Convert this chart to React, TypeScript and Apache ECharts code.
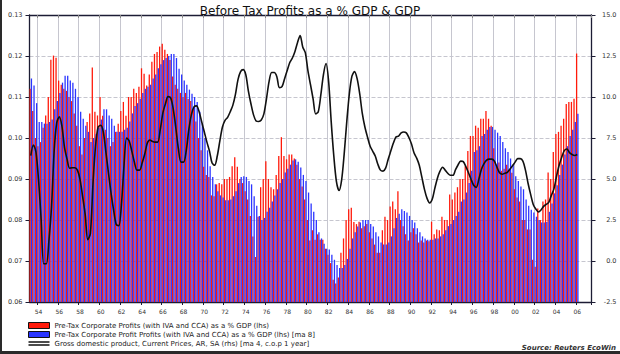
import React, { useEffect, useRef } from 'react';
import * as echarts from 'echarts';

// Axis spans 1953Q2 .. 2007Q2 (quarterly categories)
const startYear = 1953;
const startQuarter = 2;
const totalQuarters = 217;
const tickYears = [1954, 1956, 1958, 1960, 1962, 1964, 1966, 1968, 1970, 1972, 1974, 1976, 1978, 1980,
  1982, 1984, 1986, 1988, 1990, 1992, 1994, 1996, 1998, 2000, 2002, 2004, 2006];

const titleText = 'Before Tax Profits as a % GDP & GDP';
const seriesNames = [
  'Pre-Tax Corporate Profits (with IVA and CCA) as a % GDP (lhs)',
  'Pre-Tax Corporate Profit Profits (with IVA and CCA) as a % GDP (lhs) [ma 8]',
  'Gross domestic product, Current Prices, AR, SA (rhs) [ma 4, c.o.p 1 year]',
];
const sourceText = 'Source: Reuters EcoWin';

// 1953Q2 .. 2006Q1
const profitRatio = [
  0.112, 0.1066, 0.100,
  0.098, 0.099, 0.1025, 0.1055,
  0.110, 0.1191, 0.1201, 0.1196,
  0.114, 0.113, 0.112, 0.1115,
  0.110, 0.109, 0.106, 0.103,
  0.098, 0.096, 0.100, 0.1039,
  0.106, 0.1172, 0.1064, 0.1055,
  0.110, 0.1054, 0.102, 0.100,
  0.098, 0.099, 0.1015, 0.1035,
  0.1066, 0.1088, 0.1054, 0.110,
  0.110, 0.112, 0.111, 0.1125,
  0.117, 0.1157, 0.1128, 0.1155,
  0.1186, 0.1205, 0.121, 0.1223,
  0.123, 0.1215, 0.1205, 0.119,
  0.115, 0.113, 0.112, 0.111,
  0.110, 0.111, 0.1095, 0.109,
  0.107, 0.104, 0.100, 0.097,
  0.093, 0.091, 0.0905, 0.086,
  0.0858, 0.0887, 0.089, 0.0887,
  0.090, 0.090, 0.0905, 0.0931,
  0.0953, 0.093, 0.090, 0.089,
  0.087, 0.085, 0.081, 0.076,
  0.071, 0.0808, 0.088, 0.090,
  0.0943, 0.090, 0.088, 0.0875,
  0.091, 0.0956, 0.1002, 0.0956,
  0.0948, 0.096, 0.096, 0.095,
  0.0935, 0.090, 0.0882, 0.085,
  0.080, 0.075, 0.0775, 0.0752,
  0.0765, 0.0752, 0.0752, 0.073,
  0.0715, 0.0695, 0.0654, 0.0645,
  0.066, 0.072, 0.0755, 0.080,
  0.0826, 0.083, 0.0795, 0.079,
  0.0796, 0.078, 0.0785, 0.079,
  0.077, 0.0755, 0.074, 0.072,
  0.072, 0.0775, 0.0808, 0.080,
  0.0833, 0.0845, 0.0826, 0.087,
  0.080, 0.0785, 0.0765, 0.075,
  0.077, 0.078, 0.0765, 0.0745,
  0.075, 0.0745, 0.075, 0.0748,
  0.0796, 0.0765, 0.0777, 0.0775,
  0.0808, 0.080, 0.080, 0.0862,
  0.085, 0.0867, 0.088, 0.090,
  0.090, 0.0931, 0.0968, 0.1005,
  0.1005, 0.103, 0.1025, 0.1047,
  0.1047, 0.1066, 0.1047, 0.103,
  0.0975, 0.0935, 0.094, 0.092,
  0.0925, 0.0935, 0.0925, 0.0915,
  0.0875, 0.0855, 0.0845, 0.080,
  0.080, 0.0777, 0.0777, 0.0703,
  0.0686, 0.0828, 0.080, 0.0845,
  0.085, 0.0916, 0.090, 0.0966,
  0.101, 0.1015, 0.103, 0.1047,
  0.1083, 0.1088, 0.1088, 0.1096,
  0.1206,
];

const profitRatioMA8 = [
  0.1145, 0.1128, 0.1085,
  0.1039, 0.1039, 0.1035, 0.1035,
  0.1039, 0.1045, 0.107, 0.109,
  0.111, 0.1135, 0.1152, 0.1152,
  0.114, 0.1135, 0.112, 0.110,
  0.1064, 0.1047, 0.103, 0.1015,
  0.099, 0.100, 0.101, 0.1025,
  0.1045, 0.107, 0.107, 0.1055,
  0.1047, 0.103, 0.1015, 0.1015,
  0.1015, 0.102, 0.1025, 0.104,
  0.106, 0.1078, 0.1085, 0.1096,
  0.111, 0.112, 0.1125, 0.113,
  0.1145, 0.1155, 0.117, 0.118,
  0.119, 0.1195, 0.120, 0.1205,
  0.1205, 0.1195, 0.1169, 0.1155,
  0.114, 0.113, 0.1118, 0.1108,
  0.110, 0.1088, 0.1064, 0.1035,
  0.100, 0.097, 0.0931, 0.0905,
  0.0887, 0.087, 0.086, 0.0855,
  0.0848, 0.0848, 0.085, 0.0858,
  0.087, 0.089, 0.0905, 0.0907,
  0.0905, 0.0895, 0.0887, 0.0858,
  0.0835, 0.081, 0.080, 0.0805,
  0.082, 0.083, 0.0845, 0.086,
  0.0875, 0.089, 0.090, 0.0916,
  0.0925, 0.0935, 0.0945, 0.0948,
  0.0942, 0.0928, 0.091, 0.0895,
  0.0867, 0.084, 0.082, 0.080,
  0.077, 0.0755, 0.0742, 0.073,
  0.0728, 0.0715, 0.0703, 0.069,
  0.0683, 0.0683, 0.069, 0.0705,
  0.073, 0.0755, 0.077, 0.0784,
  0.0794, 0.080, 0.080, 0.080,
  0.079, 0.0784, 0.077, 0.076,
  0.0745, 0.074, 0.074, 0.0745,
  0.076, 0.078, 0.0805, 0.0815,
  0.0826, 0.0822, 0.0818, 0.081,
  0.080, 0.0794, 0.078, 0.077,
  0.076, 0.0755, 0.0752, 0.0752,
  0.0752, 0.0755, 0.0755, 0.076,
  0.0765, 0.0775, 0.0785, 0.079,
  0.080, 0.081, 0.082, 0.0845,
  0.085, 0.0867, 0.089, 0.092,
  0.0966, 0.097, 0.098, 0.1005,
  0.101, 0.102, 0.1027, 0.1027,
  0.102, 0.1013, 0.1005, 0.099,
  0.0975, 0.0966, 0.095, 0.0935,
  0.0907, 0.0895, 0.0882, 0.0875,
  0.085, 0.0835, 0.0825, 0.0818,
  0.0808, 0.080, 0.0794, 0.0794,
  0.0795, 0.082, 0.084, 0.0865,
  0.0885, 0.091, 0.0935, 0.096,
  0.098, 0.1005, 0.102, 0.1039,
  0.1059,
];

const gdpGrowth = [
  6.43, 7.07, 6.64,
  4.92, 2.53, -0.17, -0.17,
  1.24, 3.30, 6.64, 8.42,
  8.79, 8.24, 6.95, 6.21,
  5.66, 5.69, 5.69, 5.54,
  4.98, 3.94, 2.84, 1.30,
  1.67, 4.68, 7.01, 8.17,
  8.27, 7.87, 6.64, 5.35,
  4.13, 3.08, 2.22, 2.16,
  3.45, 5.84, 7.50, 7.32,
  6.70, 6.03, 5.54, 5.54,
  5.97, 6.52, 7.19, 7.38,
  7.29, 7.25, 7.25, 8.02,
  9.03, 9.59, 10.02, 9.95,
  9.28, 8.11, 6.83, 6.03,
  6.03, 6.70, 7.99, 8.91,
  9.40, 9.46, 9.10, 8.48,
  7.87, 7.25, 6.70, 5.97,
  5.84, 6.40, 7.32, 8.17,
  8.57, 8.76, 9.10, 9.49,
  10.14, 11.06, 11.55, 11.67,
  11.37, 10.38, 9.59, 8.91,
  8.54, 8.51, 8.60, 8.97,
  9.89, 10.94, 11.49, 11.49,
  11.24, 10.57, 10.63, 11.12,
  11.61, 12.10, 12.38, 12.78,
  13.33, 13.75, 13.05, 12.71,
  11.61, 10.75, 9.89, 8.97,
  9.10, 10.14, 11.37, 12.04,
  10.94, 8.48, 6.40, 4.86,
  4.30, 4.92, 6.52, 8.48,
  10.20, 11.27, 11.55, 11.12,
  10.20, 9.00, 8.17, 7.56,
  7.01, 6.70, 6.40, 5.90,
  5.54, 5.48, 5.66, 6.21,
  6.70, 7.19, 7.56, 7.62,
  7.81, 7.87, 7.81, 7.53,
  7.13, 6.58, 6.27, 5.84,
  5.11, 4.37, 3.82, 3.54,
  3.76, 4.43, 5.05, 5.48,
  5.72, 5.54, 5.35, 5.23,
  5.23, 5.57, 5.87, 6.09,
  6.06, 5.75, 5.38, 4.98,
  4.62, 4.49, 4.98, 5.60,
  5.94, 6.15, 6.21, 6.21,
  6.09, 5.72, 5.38, 5.29,
  5.35, 5.41, 5.60, 5.81,
  6.03, 6.24, 6.24, 6.09,
  5.54, 4.74, 4.06, 3.45,
  3.17, 2.99, 3.11, 3.33,
  3.45, 3.57, 4.00, 4.40,
  5.17, 5.84, 6.33, 6.73,
  6.83, 6.61, 6.49, 6.43,
  6.49,
];

const categories: string[] = [];
for (let i = 0; i < totalQuarters; i++) {
  const q = startQuarter - 1 + i;
  categories.push(`${startYear + Math.floor(q / 4)}Q${(q % 4) + 1}`);
}

const isTick = (_idx: number, value: string) =>
  value.endsWith('Q1') && tickYears.includes(parseInt(value.slice(0, 4), 10));

const FONT = 'DejaVu Sans';
const FRAME = '#1c1c34';
const GRIDC = '#c6c6cf';

export default function App() {
  const ref = useRef<HTMLDivElement>(null);
  useEffect(() => {
    document.body.style.margin = '0';
    const chart = echarts.init(ref.current!, undefined, { renderer: 'svg' });
    chart.setOption({
      animation: false,
      backgroundColor: '#ffffff',
      title: {
        text: titleText,
        left: 'center',
        top: 0,
        textStyle: { fontFamily: FONT, fontSize: 12, fontWeight: 'normal', color: '#111' },
      },
      grid: { left: 29.5, right: 28.5, top: 15, bottom: 52 },
      legend: {
        orient: 'vertical',
        left: 28,
        top: 322,
        height: 40,
        padding: 0,
        itemWidth: 21,
        itemHeight: 6,
        itemGap: 2,
        textStyle: { fontFamily: FONT, fontSize: 7, color: '#222', lineHeight: 7 },
        data: [
          { name: seriesNames[0], icon: 'rect', itemStyle: { borderColor: '#111', borderWidth: 1 } },
          { name: seriesNames[1], icon: 'rect', itemStyle: { borderColor: '#111', borderWidth: 1 } },
          { name: seriesNames[2], icon: 'path://M0,0H40V3H0Z M0,6H40V9H0Z' },
        ],
      },
      xAxis: [
        {
          type: 'category',
          data: categories,
          position: 'bottom',
          axisLine: { onZero: false, lineStyle: { color: FRAME, width: 1.3 } },
          axisTick: { show: true, interval: isTick, length: 3, lineStyle: { color: FRAME } },
          axisLabel: {
            interval: isTick,
            formatter: (v: string) => v.slice(2, 4),
            fontFamily: FONT,
            fontSize: 6,
            color: '#333',
            margin: 6,
          },
          splitLine: { show: true, interval: isTick, lineStyle: { color: GRIDC, width: 1 } },
        },
        {
          type: 'category',
          data: categories,
          position: 'top',
          axisLine: { onZero: false, lineStyle: { color: FRAME, width: 1.3 } },
          axisTick: { show: true, inside: true, interval: isTick, length: 3, lineStyle: { color: '#888' } },
          axisLabel: { show: false },
          splitLine: { show: false },
        },
      ],
      yAxis: [
        {
          type: 'value',
          min: 0.06,
          max: 0.13,
          interval: 0.01,
          position: 'left',
          axisLine: { show: true, onZero: false, lineStyle: { color: FRAME, width: 1.3 } },
          axisTick: { show: true, length: 4, lineStyle: { color: FRAME } },
          axisLabel: {
            formatter: (v: number) => v.toFixed(2),
            fontFamily: FONT,
            fontSize: 6.5,
            color: '#333',
            margin: 7,
          },
          splitLine: { show: true, lineStyle: { color: GRIDC, type: [4, 2], width: 1 } },
        },
        {
          type: 'value',
          min: -2.5,
          max: 15,
          interval: 2.5,
          position: 'right',
          axisLine: { show: true, onZero: false, lineStyle: { color: FRAME, width: 1.3 } },
          axisTick: { show: true, length: 4, lineStyle: { color: FRAME } },
          axisLabel: {
            formatter: (v: number) => v.toFixed(1),
            fontFamily: FONT,
            fontSize: 6.5,
            color: '#333',
            align: 'right',
            margin: 25,
          },
          splitLine: { show: false },
        },
      ],
      series: [
        {
          name: seriesNames[0],
          type: 'bar',
          data: profitRatio,
          color: '#ff1a0a',
          barGap: '0%',
          barCategoryGap: '0%',
        },
        {
          name: seriesNames[1],
          type: 'bar',
          data: profitRatioMA8,
          color: '#2a35ff',
          barGap: '0%',
          barCategoryGap: '0%',
        },
        {
          name: seriesNames[2],
          type: 'line',
          yAxisIndex: 1,
          data: gdpGrowth,
          color: '#111111',
          smooth: 0.3,
          showSymbol: false,
          symbol: 'none',
          lineStyle: { color: '#111111', width: 1.6 },
          z: 5,
        },
      ],
      graphic: [
        { type: 'rect', left: 0, top: 0, shape: { width: 2, height: 354 }, style: { fill: '#2a2a2a' } },
        { type: 'rect', left: 0, top: 351, shape: { width: 620, height: 3 }, style: { fill: '#2a2a2a' } },
        {
          type: 'text',
          right: 4,
          top: 344,
          style: { text: sourceText, font: 'italic bold 7px DejaVu Sans', fill: '#333' },
        },
      ],
    });
    return () => chart.dispose();
  }, []);
  return <div ref={ref} style={{ width: 620, height: 354 }} />;
}
